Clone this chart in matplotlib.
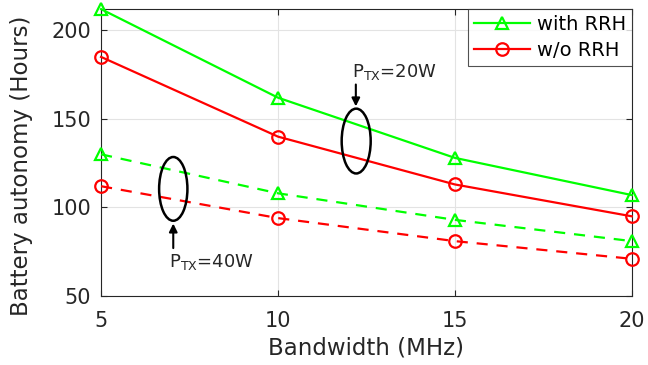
import matplotlib.pyplot as plt
from matplotlib.patches import Ellipse

plt.rcParams['font.family'] = ['DejaVu Sans']
plt.rcParams['mathtext.fontset'] = 'dejavusans'

bandwidth = [5, 10, 15, 20]
rrh_20w = [212, 162, 128, 107]
norrh_20w = [185, 140, 113, 95]
rrh_40w = [130, 108, 93, 81]
norrh_40w = [112, 94, 81, 71]

fig = plt.figure(figsize=(6.48, 3.65), dpi=100)
ax = fig.add_axes([0.156, 0.189, 0.819, 0.786])

green = '#00ff00'
red = '#ff0000'
dash = (0, (5, 4))
ax.plot(bandwidth, rrh_20w, color=green, lw=1.6, marker='^', ms=9,
        mfc='none', mew=1.6, label='with RRH', clip_on=False, zorder=3)
ax.plot(bandwidth, norrh_20w, color=red, lw=1.6, marker='o', ms=9,
        mfc='none', mew=1.6, label='w/o RRH', clip_on=False, zorder=3)
ax.plot(bandwidth, rrh_40w, color=green, lw=1.6, ls=dash, marker='^', ms=9,
        mfc='none', mew=1.6, clip_on=False, zorder=3)
ax.plot(bandwidth, norrh_40w, color=red, lw=1.6, ls=dash, marker='o', ms=9,
        mfc='none', mew=1.6, clip_on=False, zorder=3)

# ellipses + arrows marking the two power levels
ax.add_patch(Ellipse((12.21, 137.5), 0.82, 36.6, fill=False, ec='black', lw=1.8, zorder=4))
ax.add_patch(Ellipse((7.04, 110.5), 0.8, 36, fill=False, ec='black', lw=1.8, zorder=4))
ax.annotate('', xy=(12.2, 155.5), xytext=(12.2, 171),
            arrowprops=dict(arrowstyle='-|>', color='black', lw=1.5, mutation_scale=12))
ax.annotate('', xy=(7.04, 92.5), xytext=(7.04, 75.5),
            arrowprops=dict(arrowstyle='-|>', color='black', lw=1.5, mutation_scale=12))
ax.text(12.1, 173.6, r'P$_{\mathregular{TX}}$=20W', fontsize=13, color='#262626',
        ha='left', va='baseline')
ax.text(6.92, 66.5, r'P$_{\mathregular{TX}}$=40W', fontsize=13, color='#262626',
        ha='left', va='baseline')

ax.set_xlim(5, 20)
ax.set_ylim(50, 212)
ax.set_xticks([5, 10, 15, 20])
ax.set_yticks([50, 100, 150, 200])
ax.tick_params(direction='in', labelsize=15, colors='#262626', length=4,
               top=True, right=True)
ax.tick_params(axis='x', pad=11)
ax.tick_params(axis='y', pad=7)
ax.set_xlabel('Bandwidth (MHz)', fontsize=16.5, color='#262626', labelpad=4)
ax.set_ylabel('Battery autonomy (Hours)', fontsize=16.5, color='#262626')
ax.yaxis.set_label_coords(-0.128, 0.453)
ax.grid(True, color='#e3e3e3', lw=0.8)
for s in ax.spines.values():
    s.set_color('#262626')
    s.set_linewidth(0.8)

leg = ax.legend(loc='upper right', fontsize=14, frameon=True, fancybox=False,
                borderaxespad=0, handlelength=2.9, handletextpad=0.35,
                borderpad=0.3, labelspacing=0.35)
leg.get_frame().set_edgecolor('#262626')
leg.get_frame().set_linewidth(0.8)

fig.savefig('out.png', dpi=100)
